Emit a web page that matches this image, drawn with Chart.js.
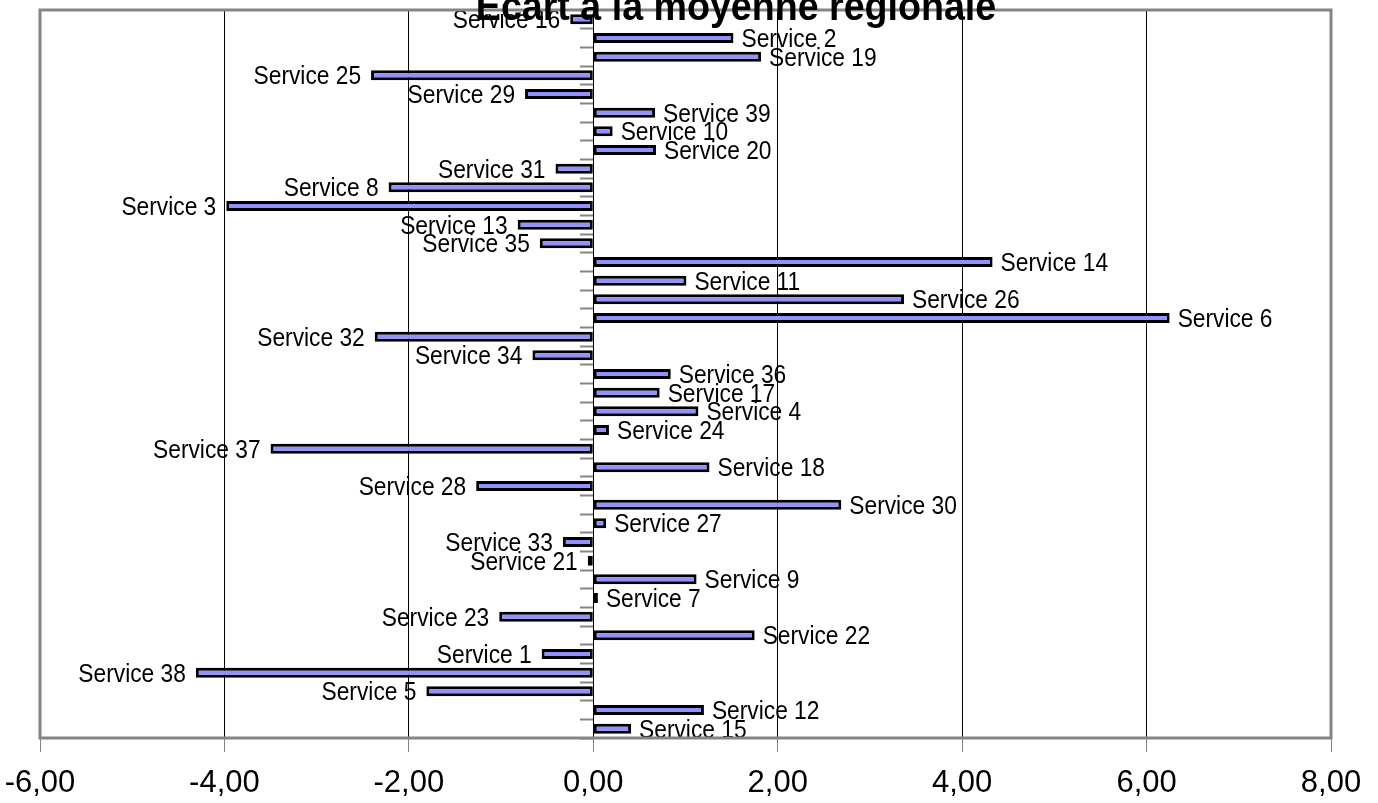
<!DOCTYPE html>
<html>
<head>
<meta charset="utf-8">
<title>Ecart à la moyenne régionale</title>
<script src="https://cdn.jsdelivr.net/npm/chart.js@4.4.1/dist/chart.umd.min.js"></script>
<style>
  html, body { margin:0; padding:0; background:#fff; }
  #chartEcart { display:block; }
</style>
</head>
<body>
<canvas id="chartEcart" width="1378" height="803"></canvas>
<script>
        // 데이터 (위에서 아래 순서)
        let chartLabels = ["Service 16","Service 2","Service 19","Service 25","Service 29","Service 39","Service 10","Service 20",
                           "Service 31","Service 8","Service 3","Service 13","Service 35","Service 14","Service 11","Service 26",
                           "Service 6","Service 32","Service 34","Service 36","Service 17","Service 4","Service 24","Service 37",
                           "Service 18","Service 28","Service 30","Service 27","Service 33","Service 21","Service 9","Service 7",
                           "Service 23","Service 22","Service 1","Service 38","Service 5","Service 12","Service 15"];

        let chartData = [-0.25, 1.52, 1.82, -2.41, -0.74, 0.67, 0.21, 0.68,
                         -0.41, -2.22, -3.98, -0.82, -0.58, 4.33, 1.01, 3.37,
                         6.25, -2.37, -0.66, 0.84, 0.72, 1.14, 0.17, -3.50,
                         1.26, -1.27, 2.69, 0.14, -0.33, -0.06, 1.12, 0.05,
                         -1.02, 1.75, -0.56, -4.31, -1.81, 1.20, 0.41];

        let xMin = -6;
        let xMax = 8;
        let xStep = 2;
        let chartTitle = "Ecart à la moyenne régionale";

        let chartEcart = null;

        // 플롯 테두리 (회색)
        const framePlugin = {
            id : "frameBox",
            afterDraw : function(chart){
                let ctx = chart.ctx;
                let a = chart.chartArea;
                ctx.save();
                ctx.strokeStyle = "#858585";
                ctx.lineWidth = 3;
                ctx.strokeRect(a.left, a.top, a.right - a.left, a.bottom - a.top);
                ctx.restore();
            }
        };

        // 막대 끝 라벨
        const barLabelPlugin = {
            id : "barLabel",
            afterDatasetsDraw : function(chart){
                let ctx = chart.ctx;
                let meta = chart.getDatasetMeta(0);
                ctx.save();
                ctx.font = "26px 'Liberation Sans', Arial, sans-serif";
                ctx.fillStyle = "#000";
                ctx.textBaseline = "alphabetic";
                let sx = 0.875;
                meta.data.forEach((bar, i) => {
                    let val = chartData[i];
                    let txt = chartLabels[i];
                    let y = bar.y + 9;
                    ctx.save();
                    if(val >= 0){
                        ctx.translate(bar.x + 8, y);
                        ctx.scale(sx, 1);
                        ctx.textAlign = "left";
                    }else{
                        ctx.translate(bar.x - 10, y);
                        ctx.scale(sx, 1);
                        ctx.textAlign = "right";
                    };
                    ctx.fillText(txt, 0, 0);
                    ctx.restore();
                });
                ctx.restore();
            }
        };

        // 제목 (위쪽이 잘려 있음)
        const titlePlugin = {
            id : "topTitle",
            afterDraw : function(chart){
                let ctx = chart.ctx;
                ctx.save();
                ctx.font = "bold 40px 'Liberation Sans', Arial, sans-serif";
                ctx.fillStyle = "#000";
                ctx.textAlign = "center";
                ctx.textBaseline = "alphabetic";
                ctx.translate(736, 20);
                ctx.scale(0.94, 1);
                ctx.fillText(chartTitle, 0, 0);
                ctx.restore();
            }
        };

        function setChart(){
            let chartArea = document.getElementById("chartEcart").getContext("2d");

            chartEcart = new Chart(chartArea, {
                type : "bar",
                data : {
                    labels : chartLabels,
                    datasets : [
                        {
                            label : "Ecart",
                            data : chartData,
                            backgroundColor : "#9090ff",
                            borderColor : "#000000",
                            borderWidth : 3,
                            borderSkipped : false,
                            barPercentage : 0.54,
                            categoryPercentage : 1.0
                        }
                    ]
                },
                options : {
                    indexAxis : "y",
                    responsive : false,
                    animation : false,
                    layout : {
                        padding : { left: 40, right: 47, top: 10, bottom: 0 }
                    },
                    plugins : {
                        legend : { display:false },
                        title : { display:false },
                        tooltip : { enabled:false }
                    },
                    scales : {
                        x : {
                            type : "linear",
                            min : xMin,
                            max : xMax,
                            position : "bottom",
                            afterFit : function(scale){
                                // 라벨 넘침 여백 제거, 축 높이 고정
                                scale.paddingLeft = 0;
                                scale.paddingRight = 0;
                                scale.height = 65;
                            },
                            ticks : {
                                stepSize : xStep,
                                padding : 13,
                                color : "#000",
                                font : { family : "'Liberation Sans Narrow', 'Arial Narrow', 'Liberation Sans', sans-serif", size : 31 },
                                callback : function(v){ return v.toFixed(2).replace(".", ","); }
                            },
                            grid : {
                                color : "#000",
                                lineWidth : 1,
                                tickColor : "#858585",
                                tickLength : 14,
                                drawTicks : true
                            },
                            border : { display:false }
                        },
                        y : {
                            type : "category",
                            position : { x : 0 },
                            offset : true,
                            ticks : { display:false },
                            grid : {
                                offset : true,
                                drawOnChartArea : false,
                                drawTicks : true,
                                tickLength : 13,
                                tickColor : "#858585",
                                tickWidth : 2
                            },
                            border : { display:true, color:"#000", width:1 }
                        }
                    }
                },
                plugins : [framePlugin, barLabelPlugin, titlePlugin]
            });
        };

        setChart();
</script>
</body>
</html>
